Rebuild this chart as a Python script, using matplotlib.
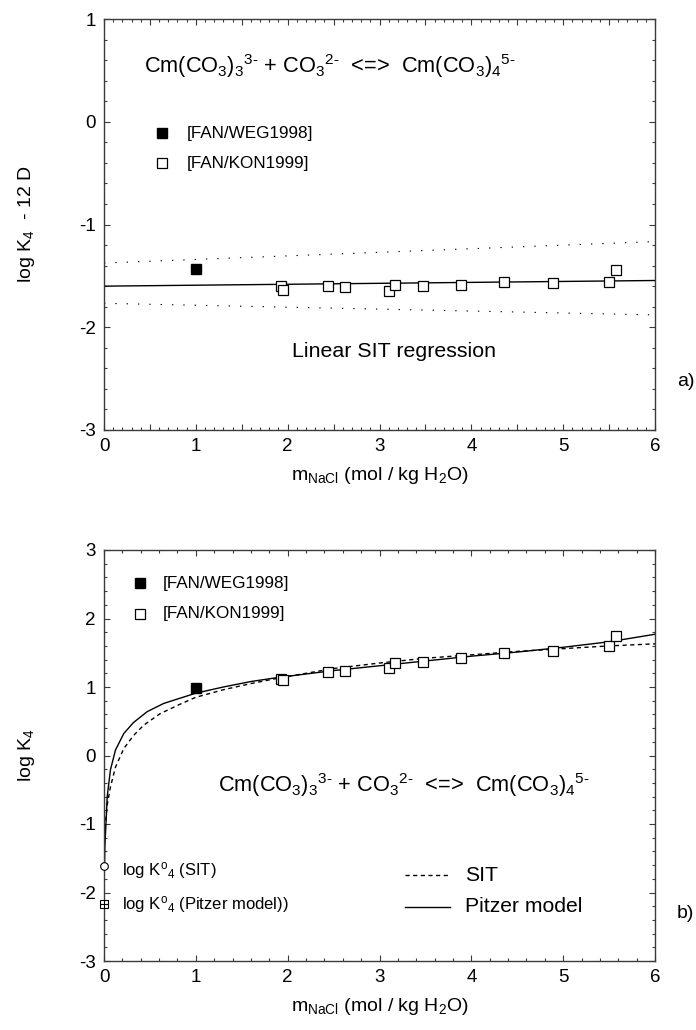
import matplotlib
matplotlib.use("Agg")
import matplotlib.pyplot as plt
from matplotlib.ticker import MultipleLocator
import numpy as np

plt.rcParams['font.family'] = ['Liberation Sans', 'DejaVu Sans']
plt.rcParams['mathtext.fontset'] = 'custom'
plt.rcParams['mathtext.rm'] = 'Liberation Sans'
plt.rcParams['mathtext.it'] = 'Liberation Sans:italic'
plt.rcParams['mathtext.bf'] = 'Liberation Sans:bold'
plt.rcParams['axes.unicode_minus'] = False

# ---------------- data ----------------
# [FAN/WEG1998]
m_weg = [1.00]
top_weg = [-1.43]          # log K4 - 12 D
bot_weg = [0.99]           # log K4

# [FAN/KON1999]
m_kon = [1.93, 1.95, 2.44, 2.62, 3.10, 3.17, 3.47, 3.89, 4.36, 4.89, 5.50, 5.57]
top_kon = [-1.60, -1.64, -1.60, -1.61, -1.645, -1.585, -1.595, -1.59, -1.556, -1.566, -1.56, -1.44]
bot_kon = [1.12, 1.10, 1.22, 1.24, 1.28, 1.35, 1.365, 1.43, 1.50, 1.53, 1.60, 1.75]

# linear SIT regression (intercept = log K°4, slope = -Δε) and its uncertainty band
m_fit = [0.0, 6.0]
fit_central = [-1.60, -1.545]
fit_upper = [-1.375, -1.166]
fit_lower = [-1.767, -1.880]

# standard-state constants
logK0_sit = -1.62
logK0_pitzer = -2.17

# model curves (log K4 vs m)
m_sit = [0.0, 0.002, 0.01, 0.035, 0.07, 0.125, 0.215, 0.32, 0.43, 0.61, 0.83, 1.0,
         1.3, 1.6, 1.9, 2.5, 3.0, 3.5, 4.0, 4.5, 5.0, 5.5, 6.0]
logK_sit = [-1.62, -1.36, -1.08, -0.72, -0.46, -0.17, 0.10, 0.29, 0.44, 0.61, 0.75, 0.85,
            0.96, 1.05, 1.13, 1.27, 1.35, 1.42, 1.47, 1.52, 1.56, 1.60, 1.63]
m_pitzer = [0.0, 0.002, 0.01, 0.035, 0.07, 0.125, 0.215, 0.32, 0.47, 0.65, 1.0, 1.3,
            1.6, 1.9, 2.5, 3.0, 3.5, 4.0, 4.5, 5.0, 5.5, 6.0]
logK_pitzer = [-2.17, -1.80, -1.32, -0.60, -0.21, 0.08, 0.32, 0.48, 0.64, 0.76, 0.91, 1.00,
               1.08, 1.14, 1.24, 1.31, 1.38, 1.45, 1.51, 1.58, 1.66, 1.77]

eq_text = (r'Cm(CO$_3$)$_3$$^{\text{3-}}$ + CO$_3$$^{\text{2-}}$  <=>  '
           r'Cm(CO$_3$)$_4$$^{\text{5-}}$')
xlabel = r'm$_{\mathrm{NaCl}}$ (mol / kg H$_2$O)'

# ---------------- figure ----------------
W, H = 696, 1030
fig = plt.figure(figsize=(W / 100, H / 100), dpi=100)
ax1 = fig.add_axes([104 / W, 1 - 430 / H, 551 / W, 411 / H])
ax2 = fig.add_axes([104 / W, 1 - 961 / H, 551 / W, 411 / H])

spine_c = '#3a3a3a'
for ax in (ax1, ax2):
    for s in ax.spines.values():
        s.set_color(spine_c)
        s.set_linewidth(1.0)
    ax.tick_params(which='both', direction='in', top=True, right=True,
                   color=spine_c, labelsize=13.5, pad=6)
    ax.tick_params(which='major', length=4.3, width=0.8)
    ax.tick_params(which='minor', length=2.4, width=0.8)
    ax.set_xlim(0, 6)

# ---- panel a ----
ax1.set_ylim(-3, 1)
ax1.xaxis.set_major_locator(MultipleLocator(0.5))
ax1.xaxis.set_major_formatter(plt.FuncFormatter(
    lambda v, p: f'{int(round(v))}' if abs(v - round(v)) < 1e-6 else ''))
ax1.xaxis.set_minor_locator(MultipleLocator(0.1))
ax1.yaxis.set_major_locator(MultipleLocator(1))
ax1.yaxis.set_minor_locator(MultipleLocator(0.2))

dot_ls = (0, (1.2, 9))
ax1.plot(m_fit, fit_central, color='black', lw=1.0)
ax1.plot(m_fit, fit_upper, color='black', lw=0.8, ls=dot_ls)
ax1.plot(m_fit, fit_lower, color='black', lw=0.8, ls=dot_ls)
ax1.plot(m_kon, top_kon, ls='none', marker='s', ms=7, mfc='white', mec='black', mew=0.9)
ax1.plot(m_weg, top_weg, ls='none', marker='s', ms=7, mfc='black', mec='black')

ax1.text(0.0726, 0.885, eq_text, transform=ax1.transAxes, fontsize=15.7,
         ha='left', va='center')
ax1.plot([0.105], [0.7226], transform=ax1.transAxes, marker='s', ms=7,
         mfc='black', mec='black', ls='none')
ax1.plot([0.105], [0.6496], transform=ax1.transAxes, marker='s', ms=7,
         mfc='white', mec='black', mew=0.9, ls='none')
ax1.text(0.1506, 0.7226, '[FAN/WEG1998]', transform=ax1.transAxes, fontsize=12.3,
         ha='left', va='center')
ax1.text(0.1506, 0.6496, '[FAN/KON1999]', transform=ax1.transAxes, fontsize=12.3,
         ha='left', va='center')
ax1.text(0.341, 0.19, 'Linear SIT regression', transform=ax1.transAxes, fontsize=15.4,
         ha='left', va='center')

ax1.set_xlabel(xlabel, fontsize=14)
ax1.set_ylabel(r'log K$_4$  - 12 D', fontsize=14)
ax1.yaxis.set_label_coords(-0.121, 0.5)
ax1.xaxis.set_label_coords(0.5, -0.085)
fig.text(677 / W, 1 - 382 / H, 'a)', fontsize=14, ha='left', va='center')

# ---- panel b ----
ax2.set_ylim(-3, 3)
ax2.xaxis.set_major_locator(MultipleLocator(1))
ax2.xaxis.set_minor_locator(MultipleLocator(0.2))
ax2.yaxis.set_major_locator(MultipleLocator(1))
ax2.yaxis.set_minor_locator(MultipleLocator(0.2))

ax2.plot(m_sit, logK_sit, color='black', lw=1.0, ls=(0, (3, 2.5)))
ax2.plot(m_pitzer, logK_pitzer, color='black', lw=1.0)
ax2.plot(m_kon, bot_kon, ls='none', marker='s', ms=7, mfc='white', mec='black', mew=0.9)
ax2.plot(m_weg, bot_weg, ls='none', marker='s', ms=7, mfc='black', mec='black')
ax2.plot([0], [logK0_sit], marker='o', ms=5.5, mfc='white', mec='black', mew=0.8,
         ls='none', clip_on=False, zorder=5)
ax2.plot([0], [logK0_pitzer], marker='s', ms=5.5, mfc='white', mec='black', mew=0.8,
         ls='none', clip_on=False, zorder=5)
ax2.plot([0], [logK0_pitzer], marker='+', ms=5.5, mec='black', mew=0.8,
         ls='none', clip_on=False, zorder=6)

ax2.plot([0.0653], [0.9197], transform=ax2.transAxes, marker='s', ms=7,
         mfc='black', mec='black', ls='none')
ax2.plot([0.0653], [0.8443], transform=ax2.transAxes, marker='s', ms=7,
         mfc='white', mec='black', mew=0.9, ls='none')
ax2.text(0.107, 0.9197, '[FAN/WEG1998]', transform=ax2.transAxes, fontsize=12.3,
         ha='left', va='center')
ax2.text(0.107, 0.8443, '[FAN/KON1999]', transform=ax2.transAxes, fontsize=12.3,
         ha='left', va='center')
ax2.text(0.207, 0.428, eq_text, transform=ax2.transAxes, fontsize=15.7,
         ha='left', va='center')
ax2.text(0.0327, 0.2214, r'log K$^{\mathrm{o}}$$_4$ (SIT)', transform=ax2.transAxes,
         fontsize=12, ha='left', va='center')
ax2.text(0.0327, 0.1363, r'log K$^{\mathrm{o}}$$_4$ (Pitzer model))',
         transform=ax2.transAxes, fontsize=12, ha='left', va='center')

ax2.plot([0.546, 0.628], [0.2092, 0.2092], transform=ax2.transAxes, color='black',
         lw=1.0, ls=(0, (3, 2.5)))
ax2.plot([0.546, 0.628], [0.1314, 0.1314], transform=ax2.transAxes, color='black',
         lw=1.0)
ax2.text(0.655, 0.2092, 'SIT', transform=ax2.transAxes, fontsize=15.2,
         ha='left', va='center')
ax2.text(0.655, 0.1314, 'Pitzer model', transform=ax2.transAxes, fontsize=15.2,
         ha='left', va='center')

ax2.set_xlabel(xlabel, fontsize=14)
ax2.set_ylabel(r'log K$_4$', fontsize=14)
ax2.yaxis.set_label_coords(-0.121, 0.5)
ax2.xaxis.set_label_coords(0.5, -0.085)
fig.text(677 / W, 1 - 913 / H, 'b)', fontsize=14, ha='left', va='center')

fig.savefig('out.png', dpi=100)
